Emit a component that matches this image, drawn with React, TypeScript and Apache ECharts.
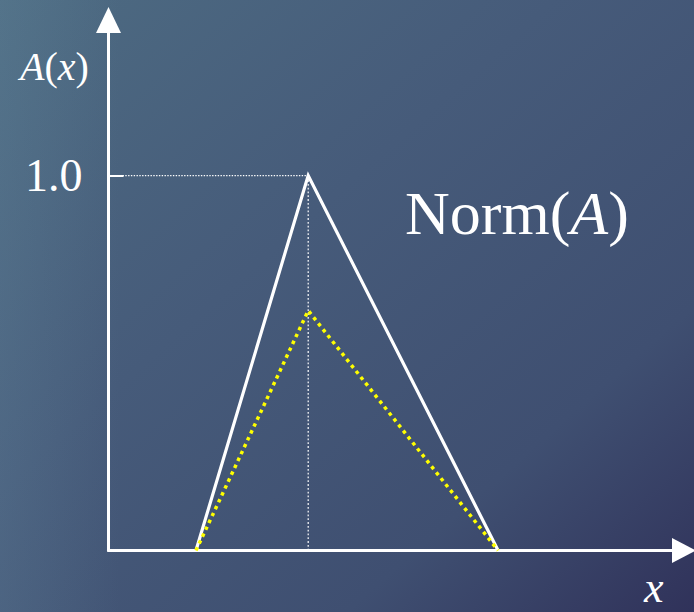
import React, { useEffect, useRef } from "react";
import * as echarts from "echarts";

// Support of the triangular fuzzy set A (x positions of the left foot, peak, right foot)
const supportX = [1.52, 3.47, 6.77];
// Membership of the normalized set Norm(A)
const normValues = [0, 1.0, 0];
// Membership of the original (subnormal) set A
const subnormalValues = [0, 0.64, 0];
// Labelled value on the membership axis
const yTickValues = [1.0];

const SERIF = '"Liberation Serif", "Times New Roman", Times, serif';

export default function App() {
  const ref = useRef<HTMLDivElement | null>(null);

  useEffect(() => {
    if (!ref.current) return;
    const chart = echarts.init(ref.current, undefined, { renderer: "svg" });

    const peakX = supportX[1];
    const peakY = yTickValues[0];

    const rich = (size: number, lineHeight?: number) => ({
      n: {
        fontFamily: SERIF,
        fontSize: size,
        fill: "#ffffff",
        color: "#ffffff",
        lineHeight: lineHeight ?? size * 1.2,
      },
      i: {
        fontFamily: SERIF,
        fontSize: size,
        fontStyle: "italic",
        fill: "#ffffff",
        color: "#ffffff",
        lineHeight: lineHeight ?? size * 1.2,
      },
    });

    chart.setOption({
      animation: false,
      backgroundColor: {
        type: "linear",
        x: 0,
        y: 0,
        x2: 1,
        y2: 1,
        colorStops: [
          { offset: 0, color: "#4d6b82" },
          { offset: 0.4, color: "#465b7a" },
          { offset: 0.75, color: "#3f4f71" },
          { offset: 1, color: "#30325a" },
        ],
      },
      grid: {
        left: 108.5,
        right: 10,
        top: 20,
        bottom: 61.5,
        outerBoundsMode: "none",
        containLabel: false,
      },
      xAxis: {
        type: "value",
        min: 0,
        max: 10,
        axisLine: {
          show: true,
          onZero: false,
          symbol: ["none", "triangle"],
          symbolSize: [25, 24],
          lineStyle: { color: "#ffffff", width: 3 },
        },
        axisTick: { show: false },
        axisLabel: { show: false },
        splitLine: { show: false },
      },
      yAxis: {
        type: "value",
        min: 0,
        max: 1.415,
        axisLine: {
          show: true,
          onZero: false,
          symbol: ["none", "triangle"],
          symbolSize: [25, 26],
          lineStyle: { color: "#ffffff", width: 3 },
        },
        axisTick: {
          show: true,
          inside: true,
          length: 15,
          customValues: yTickValues,
          lineStyle: { color: "#ffffff", width: 2 },
        },
        axisLabel: {
          show: true,
          customValues: yTickValues,
          margin: 26,
          formatter: (v: number) => v.toFixed(1),
          color: "#ffffff",
          fontFamily: SERIF,
          fontSize: 46,
        },
        splitLine: { show: false },
      },
      graphic: [
        {
          type: "rect",
          z: -10,
          silent: true,
          shape: { x: 0, y: 0, width: 120, height: 612 },
          style: {
            fill: {
              type: "linear",
              x: 0,
              y: 0,
              x2: 1,
              y2: 0,
              colorStops: [
                { offset: 0, color: "rgba(110,150,170,0.2)" },
                { offset: 1, color: "rgba(110,150,170,0)" },
              ],
            },
          },
        },
        {
          type: "text",
          silent: true,
          style: {
            x: 20,
            y: 66,
            text: "{i|A}{n|(}{i|x}{n|)}",
            rich: rich(40),
            verticalAlign: "middle",
            align: "left",
          },
        },
        {
          type: "text",
          silent: true,
          style: {
            x: 405,
            y: 213,
            text: "{n|Norm(}{i|A}{n|)}",
            rich: rich(62),
            verticalAlign: "middle",
            align: "left",
          },
        },
        {
          type: "text",
          silent: true,
          style: {
            x: 644,
            y: 587,
            text: "{i|x}",
            rich: rich(44, 34),
            verticalAlign: "middle",
            align: "left",
          },
        },
      ],
      series: [
        {
          // guide from the axis to the peak at height 1.0
          type: "line",
          data: [
            [0, peakY],
            [peakX, peakY],
          ],
          symbol: "none",
          silent: true,
          z: 1,
          lineStyle: { color: "#ffffff", width: 1.2, type: [1.4, 1.4] },
        },
        {
          // vertical guide under the peak
          type: "line",
          data: [
            [peakX, 0],
            [peakX, peakY],
          ],
          symbol: "none",
          silent: true,
          z: 1,
          lineStyle: { color: "#ffffff", width: 1.2, type: [1.8, 2] },
        },
        {
          name: "Norm(A)",
          type: "line",
          data: supportX.map((x, i) => [x, normValues[i]]),
          symbol: "none",
          silent: true,
          z: 3,
          lineStyle: { color: "#ffffff", width: 3.2, join: "miter" },
        },
        {
          name: "A",
          type: "line",
          data: supportX.map((x, i) => [x, subnormalValues[i]]),
          symbol: "none",
          silent: true,
          z: 4,
          lineStyle: { color: "#ffff00", width: 3.5, type: [3.5, 4.1] },
        },
      ],
    });

    return () => {
      chart.dispose();
    };
  }, []);

  return (
    <div
      ref={ref}
      style={{ position: "fixed", left: 0, top: 0, width: 694, height: 612 }}
    />
  );
}
